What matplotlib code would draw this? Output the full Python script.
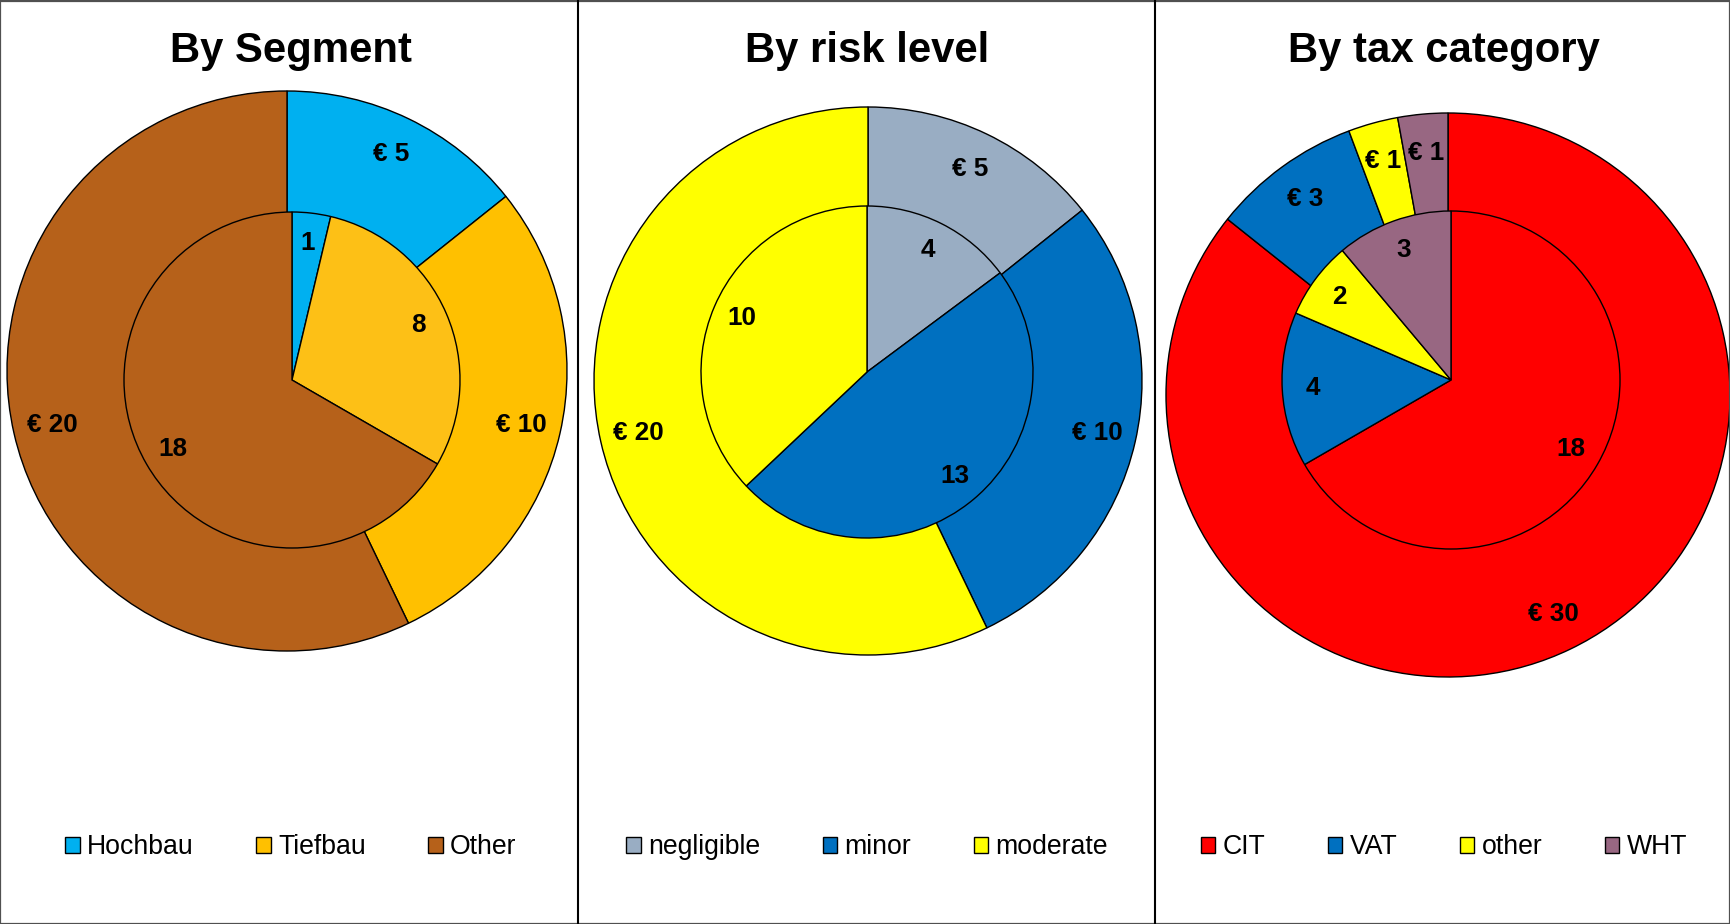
import matplotlib.pyplot as plt
from matplotlib.lines import Line2D
from matplotlib.patches import Rectangle

plt.rcParams['font.family'] = ['Liberation Sans', 'DejaVu Sans']

# --[data]---------------------------------------------------------------------
seg_names = ['Hochbau', 'Tiefbau', 'Other']
seg_outer = [5, 10, 20]
seg_inner = [1, 8, 18]

risk_names = ['negligible', 'minor', 'moderate']
risk_outer = [5, 10, 20]
risk_inner = [4, 13, 10]

tax_names = ['CIT', 'VAT', 'other', 'WHT']
tax_outer = [30, 3, 1, 1]
tax_inner = [18, 4, 2, 3]

seg_colors = ['#00B0F0', '#FFC000', '#B6611A']
seg_colors_inner = ['#00B0F0', '#FDC016', '#B6611A']
risk_colors = ['#99ADC3', '#0070C0', '#FFFF00']
tax_colors = ['#FF0000', '#0070C0', '#FFFF00', '#986782']

# --[layout, in pixels of the 1731x924 picture]---------------------------------
W, H = 1731, 924
panels = [
    # title, names, outer, inner, colors outer, colors inner, x range, outer circle, inner circle, title x
    ('By Segment', seg_names, seg_outer, seg_inner, seg_colors, seg_colors_inner,
     (0, 578), (287, 371, 280), (292, 380, 168), 291),
    ('By risk level', risk_names, risk_outer, risk_inner, risk_colors, risk_colors,
     (578, 1155), (868, 381, 274), (867, 372, 166), 867),
    ('By tax category', tax_names, tax_outer, tax_inner, tax_colors, tax_colors,
     (1155, 1731), (1448, 395, 282), (1451, 380, 169), 1444),
]

fig = plt.figure(figsize=(W / 100, H / 100), dpi=100)

label_props = dict(fontsize=18.8, fontweight='bold', ha='center', va='center')
edge = dict(edgecolor='black', linewidth=1.0)

for title, names, outer, inner, c_out, c_in, (x0, x1), oc, ic, tx in panels:
    ax = fig.add_axes([x0 / W, 0, (x1 - x0) / W, 1])

    wedges, _ = ax.pie(outer, colors=c_out, center=(oc[0], H - oc[1]), radius=oc[2],
                       startangle=90, counterclock=False, wedgeprops=edge,
                       labels=['\u20ac {}'.format(v) for v in outer], labeldistance=0.86,
                       textprops=label_props, frame=True)
    ax.pie(inner, colors=c_in, center=(ic[0], H - ic[1]), radius=ic[2],
           startangle=90, counterclock=False, wedgeprops=edge,
           labels=[str(v) for v in inner], labeldistance=0.82,
           textprops=label_props, frame=True)
    ax.set_xlim(x0, x1)
    ax.set_ylim(0, H)
    ax.set_aspect('auto')
    ax.axis('off')

    ax.text(tx, H - 61.7, title, ha='center', va='baseline',
            fontsize=30.2, fontweight='bold')

    ax.legend(wedges, names, loc='center', ncol=len(names), frameon=False,
              bbox_to_anchor=((tx - x0) / (x1 - x0), 1 - 847 / H),
              fontsize=19.2, handlelength=0.54, handleheight=0.54,
              handletextpad=0.27, columnspacing=2.35, borderaxespad=0)

# --[frame and dividers]--------------------------------------------------------
fig.add_artist(Rectangle((0.5 / W, 0.5 / H), 1 - 1.5 / W, 1 - 1.5 / H,
                         transform=fig.transFigure, fill=False,
                         edgecolor='#505050', linewidth=1.6))
for xd in (578, 1155):
    fig.add_artist(Line2D([xd / W, xd / W], [0, 1], transform=fig.transFigure,
                          color='black', linewidth=1.5))

fig.savefig('out.png', dpi=100)
